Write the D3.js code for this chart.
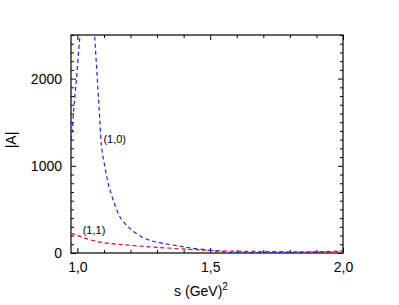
<!DOCTYPE html>
<html>
<head>
<meta charset="utf-8">
<script src="https://cdn.jsdelivr.net/npm/d3@7"></script>
<style>
  body { margin: 0; background: #fff; }
  text { font-family: "Liberation Sans", Arial, sans-serif; }
</style>
</head>
<body>
<svg id="chart"></svg>
<script>
// curve (1,0): two branches around the pole
const blueLeftS = [0.976, 0.978, 0.987, 0.997, 1.006, 1.010, 1.013];
const blueLeftA = [1300, 1330, 1672, 2016, 2360, 2500, 2650];
const blueRightS = [1.060, 1.065, 1.075, 1.083, 1.091, 1.104, 1.116, 1.135, 1.160, 1.191, 1.241, 1.291, 1.360, 1.422, 1.50, 1.55, 1.60, 1.70, 1.80, 1.90, 2.00];
const blueRightA = [2800, 2500, 2000, 1600, 1220, 980, 798, 607, 416, 301, 187, 129, 92, 60, 30, 12, 4, 2, 5, 12, 25];
// curve (1,1)
const redS = [0.976, 1.00, 1.05, 1.10, 1.15, 1.20, 1.30, 1.42, 1.50, 1.60, 1.70, 1.80, 1.90, 2.00];
const redA = [225, 200, 150, 118, 100, 88, 65, 42, 30, 20, 17, 14, 12, 10];

const xMajor = [1.0, 1.5, 2.0];
const xLabels = ['1,0', '1,5', '2,0'];
const yMajor = [0, 1000, 2000];

const W = 399, H = 305;
const margin = { top: 35, right: 56, bottom: 52, left: 71 };
const width = W - margin.left - margin.right;
const height = H - margin.top - margin.bottom;

const svg = d3.select('#chart').attr('width', W).attr('height', H);
const g = svg.append('g').attr('transform', `translate(${margin.left},${margin.top})`);

const x = d3.scaleLinear().domain([0.976, 2.0]).range([0, width]);
const y = d3.scaleLinear().domain([0, 2500]).range([height, 0]);

svg.append('defs').append('clipPath').attr('id', 'clip')
  .append('rect').attr('width', width).attr('height', height);

const xMinor = d3.range(1.0, 2.001, 0.1).filter(v => !xMajor.some(m => Math.abs(m - v) < 1e-6));
const yMinor = d3.range(0, 2501, 100).filter(v => v % 1000 !== 0);

function styleAxis(sel) {
  sel.select('.domain').remove();
  sel.selectAll('line').attr('stroke', '#000').attr('stroke-width', 1);
}

// bottom axis with labels
g.append('g').attr('transform', `translate(0,${height})`)
  .call(d3.axisBottom(x).tickValues(xMajor).tickSize(-5).tickPadding(9)
    .tickFormat((d, i) => xLabels[i]))
  .call(styleAxis)
  .selectAll('text').attr('font-size', 14).attr('fill', '#000');
g.append('g').attr('transform', `translate(0,${height})`)
  .call(d3.axisBottom(x).tickValues(xMinor).tickSize(-3).tickFormat(''))
  .call(styleAxis);
// top axis
g.append('g')
  .call(d3.axisTop(x).tickValues(xMajor).tickSize(-5).tickFormat(''))
  .call(styleAxis);
g.append('g')
  .call(d3.axisTop(x).tickValues(xMinor).tickSize(-3).tickFormat(''))
  .call(styleAxis);
// left axis with labels
g.append('g')
  .call(d3.axisLeft(y).tickValues(yMajor).tickSize(-5).tickPadding(9).tickFormat(d3.format('d')))
  .call(styleAxis)
  .selectAll('text').attr('font-size', 14).attr('fill', '#000');
g.append('g')
  .call(d3.axisLeft(y).tickValues(yMinor).tickSize(-3).tickFormat(''))
  .call(styleAxis);
// right axis
g.append('g').attr('transform', `translate(${width},0)`)
  .call(d3.axisRight(y).tickValues(yMajor).tickSize(-5).tickFormat(''))
  .call(styleAxis);
g.append('g').attr('transform', `translate(${width},0)`)
  .call(d3.axisRight(y).tickValues(yMinor).tickSize(-3).tickFormat(''))
  .call(styleAxis);

// frame
g.append('rect').attr('width', width).attr('height', height)
  .attr('fill', 'none').attr('stroke', '#000').attr('stroke-width', 1.2);

const line = d3.line().x(d => x(d[0])).y(d => y(d[1])).curve(d3.curveCatmullRom.alpha(0.5));
const zip = (a, b) => a.map((v, i) => [v, b[i]]);

const curves = g.append('g').attr('clip-path', 'url(#clip)');
curves.append('path').datum(zip(redS, redA))
  .attr('d', line).attr('fill', 'none').attr('stroke', '#ff0000')
  .attr('stroke-width', 1.2).attr('stroke-dasharray', '4,3');
curves.append('path').datum(zip(blueLeftS, blueLeftA))
  .attr('d', line).attr('fill', 'none').attr('stroke', '#2020ff')
  .attr('stroke-width', 1.2).attr('stroke-dasharray', '4,3');
curves.append('path').datum(zip(blueRightS, blueRightA))
  .attr('d', line).attr('fill', 'none').attr('stroke', '#2020ff')
  .attr('stroke-width', 1.2).attr('stroke-dasharray', '4,3');

// curve labels
g.append('text').attr('x', x(1.098)).attr('y', y(1310)).attr('dy', '0.35em')
  .attr('font-size', 11).attr('fill', '#000').text('(1,0)');
g.append('text').attr('x', x(1.02)).attr('y', y(265)).attr('dy', '0.35em')
  .attr('font-size', 11).attr('fill', '#000').text('(1,1)');

// axis titles
const xt = svg.append('text').attr('x', margin.left + width / 2 - 6).attr('y', 296)
  .attr('text-anchor', 'middle').attr('font-size', 14).attr('fill', '#000');
xt.append('tspan').text('s (GeV)');
xt.append('tspan').attr('font-size', 10).attr('dy', -6).text('2');

svg.append('text').attr('transform', `translate(16,140) rotate(-90)`)
  .attr('text-anchor', 'middle').attr('font-size', 14).attr('fill', '#000').text('|A|');
</script>
</body>
</html>
